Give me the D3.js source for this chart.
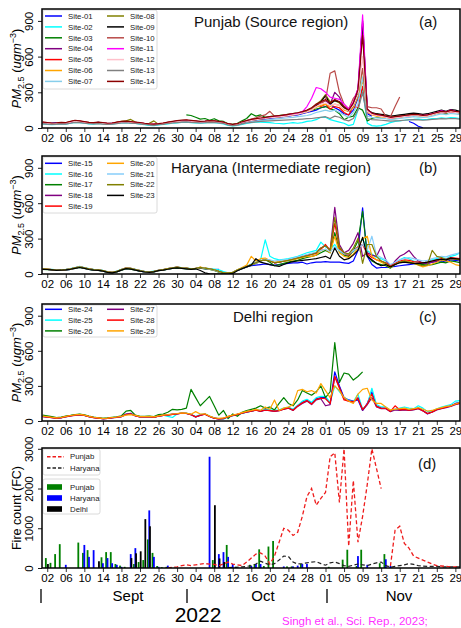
<!DOCTYPE html>
<html><head><meta charset="utf-8">
<script src="https://cdn.jsdelivr.net/npm/d3@7"></script>
<style>body{margin:0;background:#fff}svg{display:block}text{font-family:"Liberation Sans",Arial,sans-serif}</style>
</head><body><svg id="c" width="461" height="628"></svg>
<script>
const _ = null;
// ---------- categories / labels ----------
const tickLabels = ["02","06","10","14","18","22","26","30","04","08","12","16","20","24","28","01","05","09","13","17","21","25","29"];
const pmTicks = [0,300,600,900];
const fireTicks = [0,1000,2000,3000];
const punjabNames = ["Site-01","Site-02","Site-03","Site-04","Site-05","Site-06","Site-07","Site-08","Site-09","Site-10","Site-11","Site-12","Site-13","Site-14"];
const punjabColors = ["blue","cyan","green","purple","red","orange","skyblue","olive","black","#b94a48","magenta","pink","gray","darkred"];
const haryanaNames = ["Site-15","Site-16","Site-17","Site-18","Site-19","Site-20","Site-21","Site-22","Site-23"];
const haryanaColors = ["blue","cyan","green","purple","red","orange","lightskyblue","olive","black"];
const delhiNames = ["Site-24","Site-25","Site-26","Site-27","Site-28","Site-29"];
const delhiColors = ["blue","cyan","green","purple","red","orange"];
const months = ["Sept","Oct","Nov"];

// ---------- PM2.5 series: daily values Sep 1 .. Nov 30, 2022 ----------
const s01=[40,38,42,45,40,38,45,55,50,45, 40,42,48,42,38,40,42,48,50,45, 42,38,33,28,25,30,35,42,48,52, 58,60,55,50,48,50,55,52,48,40, 28,22,28,40,50,60,65,70,75,80, 85,90,95,100,105,110,120,130,140,150,170, 180,200,170,150,120,110,150,250,300,120, 100,_,_,_,_,_,_,_,55,40, 15,2,_,_,_,_,_,_,_,_];
const s02=[35,30,28,30,35,33,40,48,45,40, 35,33,38,35,30,33,38,42,45,40, 38,33,28,22,20,25,30,35,40,42, 48,50,45,42,40,42,48,45,40,35, 22,18,22,30,38,45,50,50,48,45, 40,38,35,40,45,40,45,55,60,70,90, 90,70,60,50,40,20,30,150,330,40, 20,15,20,30,45,55,60,65,70,72, 75,70,72,78,80,85,82,88,85,80];
const s03=[_,_,_,_,_,_,_,_,_,_, _,_,_,_,_,_,_,_,_,_, _,_,_,_,_,_,_,_,_,_, _,110,105,90,75,80,65,78,60,55, 35,30,40,60,80,120,100,110,90,95, 100,105,110,115,120,125,130,140,150,160,170, 180,160,150,120,70,90,100,170,150,60, 80,90,95,100,90,85,90,100,110,115, 110,100,105,115,125,130,120,140,135,125];
const s04=[42,40,36,38,42,40,48,58,55,48, 42,40,44,40,36,38,44,50,52,48, 44,40,35,30,28,32,36,44,50,55, 58,60,56,54,50,52,56,55,50,44, 30,25,30,45,55,62,70,75,80,88, 92,95,100,108,112,118,128,138,155,190,210, 230,200,300,260,170,140,210,330,880,160, 120,110,100,95,85,90,95,100,105,110, 105,100,105,115,125,135,130,140,135,130];
const s05=[48,42,38,40,44,42,52,62,58,50, 44,42,46,42,38,40,46,52,55,50, 46,42,36,32,30,34,40,46,52,58, 62,64,60,56,52,54,60,58,52,46, 32,26,32,48,58,68,72,78,82,88, 92,98,102,108,115,120,130,140,160,200,180, 200,160,180,170,130,110,180,170,350,130, 115,105,98,92,82,88,92,98,102,108, 105,98,102,112,125,132,128,138,132,128];
const s06=[44,40,36,37,41,43,49,58,54,47, 43,41,43,39,36,39,44,49,51,47, 44,39,34,31,29,33,37,43,48,53, 57,60,57,53,49,51,56,54,49,44, 31,26,31,46,56,64,70,76,80,86, 90,94,98,104,110,116,126,136,150,175,190, 200,180,200,190,150,140,170,260,400,140, 110,100,95,90,80,85,92,98,104,108, 102,96,102,112,125,140,130,145,135,130];
const s07=[38,35,32,34,38,36,44,52,50,44, 40,38,40,36,32,35,40,45,48,44, 40,36,32,28,26,30,34,40,45,48, 52,55,52,48,45,47,52,50,45,40, 28,22,26,38,46,52,58,62,66,70, 74,78,82,86,90,95,100,105,115,130,140, 150,140,150,130,110,90,130,200,430,100, 90,85,80,78,70,75,80,85,90,95, 92,88,92,100,110,118,112,122,118,112];
const s08=[46,42,38,40,44,42,52,58,55,50, 45,42,46,42,38,40,48,55,60,72, 50,40,35,40,60,30,35,42,48,52, 58,62,60,56,52,54,58,56,52,46, 30,26,32,48,58,68,74,80,86,92, 96,100,105,112,118,124,134,145,165,200,230, 280,220,230,210,170,140,190,270,500,150, 120,110,105,100,90,95,100,105,110,115, 110,105,110,120,130,140,135,150,140,135];
const s09=[44,40,36,38,42,40,50,58,54,48, 43,40,44,40,35,38,45,50,53,48, 45,40,35,30,28,32,37,44,50,55, 60,62,58,55,50,52,57,55,50,45, 30,24,30,45,55,65,70,76,82,88, 92,96,100,108,114,120,130,140,160,190,220, 270,200,230,220,170,140,190,290,900,150, 130,120,115,110,100,105,110,115,120,125, 120,115,120,130,140,150,140,155,150,140];
const s10=[50,45,40,42,46,44,54,62,58,52, 46,44,48,44,40,42,48,54,56,52, 48,44,38,33,30,34,40,48,54,58, 62,64,60,58,54,56,60,58,54,48, 34,28,34,52,62,75,85,100,110,140, 100,95,110,115,120,125,135,145,160,200,210, 230,460,480,300,200,160,250,300,500,180, 170,170,160,100,95,180,260,_,_,_, _,_,_,_,_,_,_,_,_,_];
const s11=[46,42,38,40,44,42,50,60,56,50, 44,42,46,42,36,40,46,52,54,50, 46,42,36,32,30,34,38,46,52,58, 62,62,58,56,52,54,58,56,52,46, 32,26,32,48,58,68,72,80,86,90, 95,100,105,112,118,124,135,180,250,340,330, 300,260,250,240,200,160,220,330,950,160, 120,110,105,95,85,90,95,100,105,110, 110,105,110,120,130,145,135,150,140,135];
const s12=[43,40,37,39,43,41,49,57,53,47, 42,40,43,39,35,38,44,49,51,47, 44,40,35,31,29,33,37,44,49,54, 58,60,57,54,50,52,57,54,50,44, 30,25,31,46,56,64,70,76,80,86, 90,94,98,104,110,116,126,136,152,180,200, 210,190,200,190,160,140,190,280,600,140, 115,105,98,92,82,88,92,98,102,108, 104,98,102,112,124,132,128,138,132,128];
const s13=[35,32,30,32,35,33,40,48,45,40, 36,34,36,33,30,32,36,42,44,40, 38,34,30,26,24,28,32,38,42,45, 50,52,48,45,42,44,48,46,42,38, 25,20,24,35,42,48,52,55,58,60, 62,64,66,68,70,72,75,78,80,85,90, 95,80,100,90,70,60,80,150,300,80, 70,68,65,62,58,60,62,65,68,70, 68,65,68,72,75,78,76,80,78,75];
const s14=[50,46,42,44,48,46,56,65,60,54, 48,45,50,46,40,42,50,56,58,54, 50,46,40,35,32,36,42,50,56,62, 66,68,64,60,56,58,62,60,56,50, 36,30,36,52,62,72,78,84,90,95, 100,104,108,115,122,128,138,150,170,200,220, 240,210,240,220,180,150,210,320,780,160, 125,115,108,100,90,95,100,105,110,115, 112,106,110,120,130,140,135,148,140,135];

const s15=[40,38,35,30,32,35,40,50,58,50, 40,35,32,25,15,12,20,35,48,45, 35,25,18,15,20,30,35,42,50,55, 50,45,40,45,50,45,40,38,40,_, _,_,30,45,60,70,75,80,85,80, 75,80,85,90,95,95,100,85,95,100,100, 105,100,100,100,95,90,110,200,560,150, 80,50,55,55,60,65,70,75,80,85, 90,85,90,100,105,110,100,120,115,110];
const s16=[45,42,40,35,38,40,45,55,65,55, 45,40,38,30,20,15,25,40,50,48, 40,30,22,18,25,32,38,45,52,58, 55,50,45,48,55,50,45,42,35,20, 10,15,35,50,65,85,100,120,290,150, 130,120,125,130,140,150,165,180,190,200,270, 230,210,250,190,170,160,190,230,300,200, 170,140,130,110,70,90,120,140,130,110, 100,95,100,120,130,140,130,150,160,180];
const s17=[38,36,34,30,32,35,40,48,55,48, 38,33,30,24,14,10,18,33,45,42, 33,24,17,14,18,28,33,40,48,52, 48,44,40,44,50,44,38,30,15,5, 5,10,30,45,60,75,90,110,120,100, 70,80,90,100,110,115,130,140,150,160,180, 200,180,350,200,160,150,200,280,530,160, 110,90,80,70,50,80,100,110,100,90, 85,80,75,80,90,100,95,110,105,95];
const s18=[42,40,37,32,34,37,42,52,60,52, 42,37,34,27,17,13,22,37,50,47, 37,28,20,16,22,30,36,44,52,57, 52,48,43,47,55,48,42,35,20,8, 8,12,32,48,62,78,92,110,125,115, 95,100,110,120,130,140,150,160,170,180,220, 240,200,565,250,180,200,260,350,150,180, 160,150,230,120,60,110,150,170,200,150, 110,95,90,100,110,120,115,130,125,120];
const s19=[44,41,38,33,35,38,43,53,62,53, 43,38,35,28,18,14,23,38,52,48, 38,29,21,17,23,31,37,45,53,58, 53,49,44,48,56,49,43,36,22,10, 10,14,34,50,64,80,94,112,122,110, 95,100,108,115,125,135,145,155,165,175,210, 250,200,430,220,170,160,200,230,250,170, 140,120,110,95,70,90,110,120,115,105, 100,95,100,110,120,130,125,140,135,130];
const s20=[43,40,37,32,34,37,42,52,60,52, 42,37,34,27,17,13,22,37,50,47, 37,28,20,16,22,30,36,44,52,57, 52,48,43,47,58,50,42,35,20,8, 8,12,35,55,75,150,110,130,135,115, 100,105,110,115,120,130,140,150,150,160,200, 210,180,320,180,150,140,170,220,300,320, 150,120,100,80,55,80,100,110,105,95, 75,60,70,85,100,120,110,100,80,70];
const s21=[42,40,38,33,35,38,43,52,62,52, 42,37,34,27,17,13,22,37,50,47, 37,28,20,16,22,30,36,44,52,57, 52,48,43,47,55,48,42,35,20,8, 8,12,32,48,62,78,92,110,125,120, 110,115,120,125,135,145,155,165,175,185,200, 210,190,230,200,170,170,200,220,250,200, 320,160,140,120,80,100,120,130,140,130, 120,110,115,130,140,150,145,160,170,180];
const s22=[44,41,38,33,35,38,43,53,60,53, 43,38,35,28,18,14,23,38,50,48, 38,29,21,17,23,31,37,45,53,58, 53,49,44,48,56,49,43,36,22,10, 10,14,34,50,64,80,94,112,120,110, 95,100,108,115,125,135,145,155,165,180,220, 240,200,480,230,180,170,220,300,90,250, 250,150,110,90,60,80,100,110,100,90, 80,70,80,200,150,140,120,130,125,120];
const s23=[40,38,35,30,32,35,40,48,55,48, 38,33,30,24,14,10,18,33,45,42, 33,24,17,14,18,28,33,40,48,52, 48,44,40,44,30,10,2,0,0,0, 0,5,28,45,60,75,130,100,90,80, 70,65,80,95,105,110,115,120,125,130,140, 150,130,220,150,120,130,160,200,310,150, 120,90,70,80,60,80,95,100,95,90, 90,95,100,110,120,125,120,135,130,125];

const s24=[40,35,30,25,28,38,45,50,55,48, 38,30,25,20,22,28,32,38,60,65, 45,35,35,38,32,42,48,52,58,62, 68,65,55,35,50,60,40,25,18,22, 38,48,58,68,78,85,95,85,95,90, 85,90,105,115,95,130,160,180,150,190,200, 200,150,420,300,200,180,170,180,90,150, 250,130,110,110,85,100,95,100,95,100, 110,90,60,80,100,110,120,130,150,160];
const s25=[42,38,32,28,30,40,46,52,56,50, 40,32,27,22,25,30,34,40,55,60, 48,38,38,40,35,44,50,40,30,60, 70,68,58,38,55,62,42,28,20,15, 35,45,55,65,75,85,95,90,100,95, 90,95,110,120,100,135,170,185,160,200,210, 210,160,300,250,200,175,165,230,100,140, 280,140,120,120,90,100,110,120,110,105, 130,110,80,85,105,120,130,140,170,175];
const s26=[50,45,38,30,33,42,48,55,58,52, 42,34,28,22,26,32,36,45,85,90, 50,40,40,42,38,55,60,75,100,95, 100,110,270,200,130,170,210,130,50,90, 20,60,40,75,90,100,110,130,110,120, 95,150,200,150,130,180,260,240,220,250,300, 200,250,670,330,410,400,350,380,420,_, _,_,_,_,_,_,_,_,_,_, _,_,_,_,_,_,_,_,_,_];
const s27=[38,33,28,24,27,36,43,48,53,47, 37,28,24,19,22,27,31,37,55,60, 44,34,34,37,31,41,47,51,56,60, 66,64,54,34,48,58,38,24,17,20, 36,46,56,66,76,84,92,82,92,88, 82,88,100,110,90,125,150,170,140,180,190, 130,140,380,290,190,170,160,200,90,140, 200,120,105,105,80,95,90,95,90,95, 105,85,65,75,95,105,115,125,140,150];
const s28=[39,34,29,25,28,37,44,49,54,48, 38,29,25,20,23,28,32,38,57,62, 45,35,35,38,32,42,48,52,57,61, 67,65,55,35,49,59,39,25,18,21, 37,47,57,67,77,85,93,84,94,89, 84,89,102,112,92,128,155,175,145,185,195, 190,150,380,280,180,170,165,190,100,145, 230,125,110,108,82,130,95,100,92,100, 108,88,62,78,98,108,118,128,145,150];
const s29=[42,37,32,27,30,40,47,52,57,50, 40,32,27,22,25,30,34,40,50,55, 48,38,38,40,35,44,50,54,60,64, 70,68,58,80,60,62,42,28,22,26, 40,50,60,72,82,90,100,92,120,100, 180,90,110,120,140,260,270,250,260,240,320, 260,200,300,260,200,170,150,230,270,280, 180,150,150,120,95,100,105,110,100,105, 115,100,85,90,105,115,125,130,145,160];

// ---------- Fire counts ----------
const fireBarPunjab=[0,250,130,350,600,0,0,0,640,380, 450,0,0,270,400,400,100,60,30,0, 100,150,200,720,380,50,20,30,0,0, 0,0,0,0,0,0,0,200,0,0, 580,0,30,0,0,80,100,470,50,540, 680,0,0,40,40,0,100,0,0,0,0, 0,30,0,0,210,460,0,50,460,0, 0,0,120,350,0,0,0,0,0,0, 0,0,0,0,0,0,0,0,0,0];
const fireBarHaryana=[0,0,0,0,0,80,0,0,0,580, 280,450,0,120,250,120,80,30,0,350, 500,0,0,1450,280,30,0,60,0,0, 0,0,0,0,0,0,2800,0,350,400, 280,100,0,0,0,50,100,100,0,0, 0,0,40,0,40,60,100,100,0,0,0, 0,0,0,0,0,0,0,300,0,80, 0,0,0,220,50,0,0,0,0,0, 0,0,0,0,0,0,0,0,0,0];
const fireBarDelhi=[0,100,0,0,0,0,0,0,0,0, 0,0,170,0,0,0,0,0,0,250, 370,420,1230,1050,0,0,0,0,0,0, 0,0,0,0,0,0,0,1580,240,150, 0,0,0,0,0,0,0,0,0,0, 0,0,0,0,0,0,0,0,0,0,0, 0,0,0,0,0,0,0,0,0,0, 0,0,0,0,0,0,0,0,0,0, 0,0,0,0,0,0,0,0,0,0];
const fireLinePunjab=[_,_,_,_,_,_,_,_,_,_, _,_,_,_,_,_,_,_,_,_, _,_,_,_,_,_,_,0,20,30, 60,80,60,80,100,110,100,90,60,100, 150,100,80,60,150,250,350,380,300,100, 300,650,1000,950,820,900,1300,1800,2000,1580,1750, 1900,2800,2900,1650,3000,550,2200,650,1300,2100, 3000,2500,2000,_,50,950,1050,620,500,300, 250,200,150,100,60,50,40,30,30,30];
const fireLineHaryana=[_,_,_,_,_,_,_,_,_,_, _,_,_,_,_,_,_,_,_,_, _,_,_,_,_,_,_,_,_,_, _,_,_,_,_,_,_,_,_,_, 10,15,20,30,40,60,100,170,120,80, 110,200,300,290,150,100,110,130,150,160,110, 70,130,150,110,60,40,70,100,80,60, 100,130,150,60,20,40,60,80,110,90, 60,50,40,40,40,30,30,30,30,30];

// ---------- scales ----------
const svg = d3.select("#c");
const dates = d3.timeDay.range(new Date(2022,8,1), new Date(2022,11,1));
const majorDates = d3.timeDay.range(new Date(2022,8,2), new Date(2022,11,1), 4);
const x = d3.scaleTime().domain([dates[0], dates[dates.length-1]]).range([42.6, 460]);
const L = 42, R = 460;
const FONT = "Liberation Sans, Arial, sans-serif";

function xAxis(g, bottom){
  const a = g.append("g").attr("transform",`translate(0,${bottom})`);
  a.call(d3.axisBottom(x).tickValues(dates).tickSize(2.5).tickFormat(""));
  a.call(d3.axisBottom(x).tickValues(majorDates).tickSize(4).tickPadding(2).tickFormat((d,i)=>tickLabels[i]));
  a.select(".domain").remove();
  a.selectAll("line").attr("stroke","#000").attr("stroke-width",0.8);
  a.selectAll("text").attr("font-size",11.5).attr("font-family",FONT).attr("fill","#000");
}
function yAxis(g, y, ticks){
  const a = g.append("g").attr("transform",`translate(${L},0)`);
  a.call(d3.axisLeft(y).tickValues(ticks).tickSize(4).tickFormat(d3.format("d")));
  a.select(".domain").remove();
  a.selectAll("line").attr("stroke","#000").attr("stroke-width",0.9);
  a.selectAll("text").attr("transform","rotate(-90)").attr("x",0).attr("y",-9).attr("dy",0)
    .attr("text-anchor","middle").attr("font-size",11.5).attr("font-family",FONT).attr("fill","#000");
}
function pmTitle(g, cy){
  const t = g.append("text").attr("transform",`translate(21,${cy}) rotate(-90)`).attr("text-anchor","middle").attr("font-size",13);
  t.append("tspan").attr("font-style","italic").text("PM");
  t.append("tspan").attr("font-size",9).attr("dy",3).text("2.5");
  t.append("tspan").attr("dy",-3).text(" (");
  t.append("tspan").attr("font-style","italic").text("ugm");
  t.append("tspan").attr("font-size",9).attr("dy",-5).text("\u22123");
  t.append("tspan").attr("dy",5).text(")");
}
function legendBox(g, x0, y0, w, h){
  g.append("rect").attr("x",x0).attr("y",y0).attr("width",w).attr("height",h).attr("rx",2)
   .attr("fill","#fff").attr("fill-opacity",0.85).attr("stroke","#d0d0d0").attr("stroke-width",0.8);
}
function legendItem(g, lx, ty, label, color, kind){
  if(kind==="patch"){
    g.append("rect").attr("x",lx).attr("y",ty-2.8).attr("width",15).attr("height",5.6).attr("fill",color);
  } else {
    g.append("line").attr("x1",lx).attr("x2",lx+17).attr("y1",ty).attr("y2",ty).attr("stroke",color)
     .attr("stroke-width",1.5).attr("stroke-dasharray",kind==="dash"?"3.5,2":null);
  }
  g.append("text").attr("x",lx+23).attr("y",ty).attr("dy","0.35em").attr("font-size",7.8).attr("fill","#222").text(label);
}

const panels = [
  {id:"a", top:9, bottom:128, series:[s01,s02,s03,s04,s05,s06,s07,s08,s09,s10,s11,s12,s13,s14], names:punjabNames, colors:punjabColors,
   title:"Punjab (Source region)", titleX:194, titleY:26.5, tag:"(a)", tagY:26.5, rows:7, legH:79, rowY0:16, rowDy:10.9},
  {id:"b", top:156, bottom:274, series:[s15,s16,s17,s18,s19,s20,s21,s22,s23], names:haryanaNames, colors:haryanaColors,
   title:"Haryana (Intermediate region)", titleX:171, titleY:172.5, tag:"(b)", tagY:172.5, rows:5, legH:56, rowY0:163.3, rowDy:10.7},
  {id:"c", top:304, bottom:421, series:[s24,s25,s26,s27,s28,s29], names:delhiNames, colors:delhiColors,
   title:"Delhi region", titleX:233, titleY:322, tag:"(c)", tagY:322, rows:3, legH:32, rowY0:309.3, rowDy:10.8}
];

panels.forEach(p=>{
  const g = svg.append("g");
  const y = d3.scaleLinear().domain([0,1000]).range([p.bottom, p.top]);
  svg.append("clipPath").attr("id","clip"+p.id).append("rect").attr("x",L).attr("y",p.top).attr("width",R-L).attr("height",p.bottom-p.top);
  const lg = g.append("g").attr("clip-path",`url(#clip${p.id})`);
  const line = d3.line().defined(d=>d[1]!=null).x(d=>x(d[0])).y(d=>y(d[1]));
  p.series.forEach((s,i)=>{
    lg.append("path").datum(dates.map((d,j)=>[d,s[j]])).attr("d",line).attr("fill","none")
      .attr("stroke",p.colors[i]).attr("stroke-width",1.2).attr("stroke-linejoin","round");
  });
  xAxis(g, p.bottom);
  yAxis(g, y, pmTicks);
  pmTitle(g, (p.top+p.bottom)/2);
  legendBox(g, 43, p.top+1, 114, p.legH);
  p.names.forEach((n,i)=>{
    const col = i<p.rows?0:1, row = i<p.rows?i:i-p.rows;
    legendItem(g, col?107:45, p.rowY0+row*p.rowDy, n, p.colors[i], "line");
  });
  g.append("text").attr("x",p.titleX).attr("y",p.titleY).attr("font-size",15).attr("fill","#111").text(p.title);
  g.append("text").attr("x",419).attr("y",p.tagY).attr("font-size",15).attr("fill","#111").text(p.tag);
  g.append("rect").attr("x",L).attr("y",p.top).attr("width",R-L).attr("height",p.bottom-p.top).attr("fill","none").attr("stroke","#000").attr("stroke-width",1.5);
});

// ---------- panel d ----------
{
  const top=448, bottom=568;
  const g = svg.append("g");
  const y = d3.scaleLinear().domain([0,3020]).range([bottom, top]);
  svg.append("clipPath").attr("id","clipd").append("rect").attr("x",L).attr("y",top).attr("width",R-L).attr("height",bottom-top);
  const cg = g.append("g").attr("clip-path","url(#clipd)");
  const bw = 1.8;
  const bars = [[fireBarPunjab,"green",-1.4],[fireBarHaryana,"blue",0],[fireBarDelhi,"black",0.7]];
  bars.forEach(([arr,col,off])=>{
    cg.selectAll(null).data(dates.map((d,j)=>[d,arr[j]]).filter(d=>d[1]>0)).enter().append("rect")
      .attr("x",d=>x(d[0])+off-bw/2).attr("width",bw).attr("y",d=>y(d[1])).attr("height",d=>bottom-y(d[1])).attr("fill",col);
  });
  const line = d3.line().defined(d=>d[1]!=null).x(d=>x(d[0])).y(d=>y(d[1]));
  cg.append("path").datum(dates.map((d,j)=>[d,fireLineHaryana[j]])).attr("d",line).attr("fill","none")
    .attr("stroke","#222").attr("stroke-width",1.2).attr("stroke-dasharray","4,2.5");
  cg.append("path").datum(dates.map((d,j)=>[d,fireLinePunjab[j]])).attr("d",line).attr("fill","none")
    .attr("stroke","#ee1c1c").attr("stroke-width",1.3).attr("stroke-dasharray","4,2.5");
  xAxis(g, bottom);
  yAxis(g, y, fireTicks);
  g.append("text").attr("transform",`translate(21,${(top+bottom)/2}) rotate(-90)`).attr("text-anchor","middle").attr("font-size",12.5).text("Fire count (FC)");
  legendBox(g, 43, 449, 57, 26);
  legendItem(g, 47, 456.7, "Punjab", "#ee1c1c", "dash");
  legendItem(g, 47, 468, "Haryana", "#222", "dash");
  legendBox(g, 43, 479, 57, 35);
  legendItem(g, 47, 487, "Punjab", "green", "patch");
  legendItem(g, 47, 498, "Haryana", "blue", "patch");
  legendItem(g, 47, 509, "Delhi", "black", "patch");
  g.append("text").attr("x",418).attr("y",469).attr("font-size",15).attr("fill","#111").text("(d)");
  g.append("rect").attr("x",L).attr("y",top).attr("width",R-L).attr("height",bottom-top).attr("fill","none").attr("stroke","#000").attr("stroke-width",1.5);
}

// ---------- month annotations ----------
const monthX = [128, 263, 399];
const sepX = [41, 187, 327];
sepX.forEach(v=>svg.append("line").attr("x1",v).attr("x2",v).attr("y1",589).attr("y2",603).attr("stroke","#000").attr("stroke-width",1.3));
months.forEach((m,i)=>svg.append("text").attr("x",monthX[i]).attr("y",601).attr("text-anchor","middle")
  .attr("font-family","Lato, 'Open Sans', sans-serif").attr("font-size",15).attr("fill","#000").text(m));
svg.append("text").attr("x",198).attr("y",622).attr("text-anchor","middle").attr("font-family","Lato, 'Open Sans', sans-serif")
  .attr("font-size",21).attr("fill","#000").text("2022");
svg.append("text").attr("x",282).attr("y",624.5).attr("font-family","Lato, 'Open Sans', sans-serif")
  .attr("font-size",11.5).attr("fill","#ff30ff").text("Singh et al., Sci. Rep., 2023;");
</script></body></html>
